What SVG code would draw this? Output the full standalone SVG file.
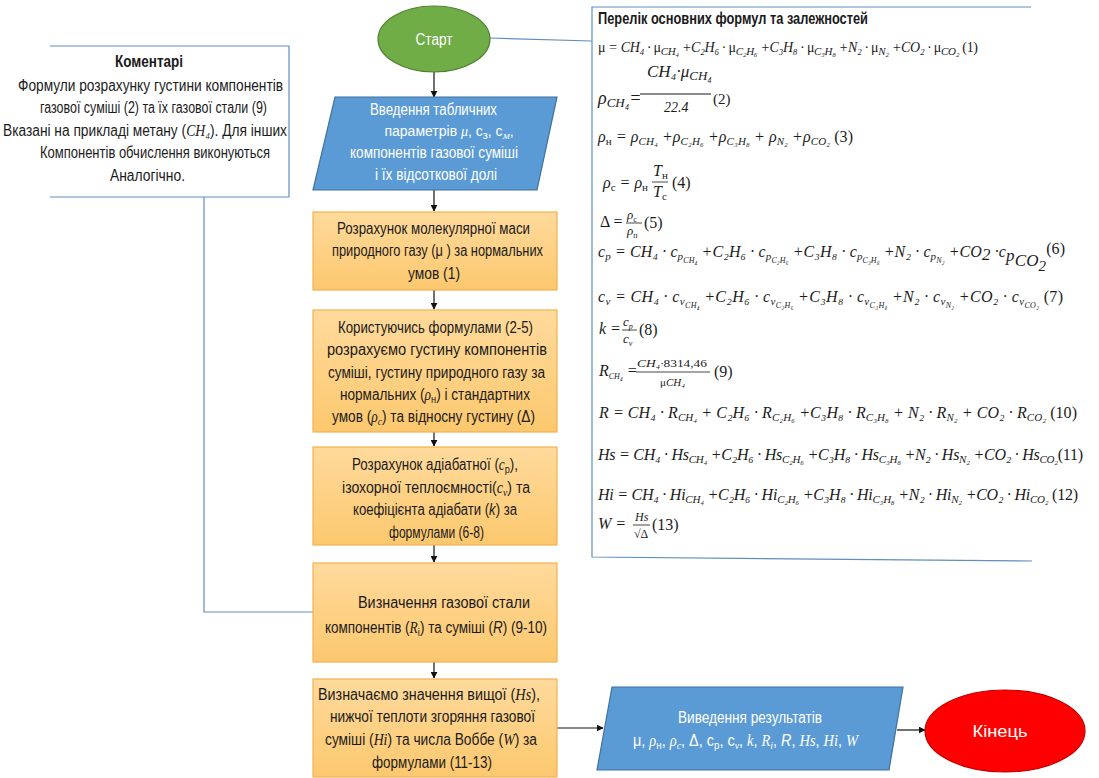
<svg xmlns="http://www.w3.org/2000/svg" width="1099" height="778" viewBox="0 0 1099 778">
  <defs>
    <linearGradient id="orange" x1="0" y1="0" x2="0" y2="1">
      <stop offset="0" stop-color="#FFDA9C"/>
      <stop offset="1" stop-color="#FCC86E"/>
    </linearGradient>
    <marker id="arrow" viewBox="0 0 10 10" refX="9" refY="5" markerWidth="7" markerHeight="7" orient="auto" markerUnits="userSpaceOnUse">
      <path d="M0,0 L10,5 L0,10 z" fill="#111"/>
    </marker>
    <style>
      .t { font-family: "Liberation Sans", Arial, sans-serif; font-size: 16px; fill: #1b1b1b; }
      .c { text-anchor: middle; }
      .w { fill: #ffffff; }
      .b { font-weight: bold; }
      .i { font-family: "Liberation Serif", "DejaVu Serif", serif; font-style: italic; }
      .m { font-family: "Liberation Serif", "DejaVu Serif", serif; font-style: italic; font-size: 16px; fill: #1b1b1b; }
      .u { font-style: normal; }
      .s { font-size: 11px; baseline-shift: -3px; }
      .ss { font-size: 8px; baseline-shift: -3px; }
      .proc { fill: url(#orange); stroke: #F2B152; stroke-width: 1.2; }
      .io { fill: #5B9BD5; stroke: #41719C; stroke-width: 1.2; }
      .flow { fill: none; stroke: #111; stroke-width: 1.2; marker-end: url(#arrow); }
      .frame { fill: none; stroke: #5E8FBE; stroke-width: 1.2; }
      .bar { stroke: #1b1b1b; stroke-width: 0.8; }
    </style>
  </defs>

  <rect width="1099" height="778" fill="#ffffff"/>

  <!-- connectors -->
  <g id="connectors">
    <line class="flow" x1="434" y1="72" x2="434" y2="97"/>
    <line class="flow" x1="434" y1="190" x2="434" y2="211"/>
    <line class="flow" x1="434" y1="290" x2="434" y2="309"/>
    <line class="flow" x1="434" y1="432" x2="434" y2="446"/>
    <line class="flow" x1="434" y1="545" x2="434" y2="562"/>
    <line class="flow" x1="434" y1="662" x2="434" y2="678"/>
    <line class="flow" x1="557" y1="728" x2="603" y2="728"/>
    <line class="flow" x1="897" y1="730" x2="925" y2="730"/>
    <!-- comment link to the gas-constant step -->
    <polyline class="frame" points="204,197 204,612 313,612"/>
    <!-- start link to the formula list -->
    <line class="frame" x1="490" y1="38" x2="592" y2="41"/>
  </g>

  <!-- comment block -->
  <g id="comment">
    <polyline class="frame" points="50,46 289,46 289,197 50,197"/>
    <text class="t b" x="115" y="67" textLength="68" lengthAdjust="spacingAndGlyphs">Коментарі</text>
    <text class="t" x="18" y="91" textLength="265" lengthAdjust="spacingAndGlyphs">Формули розрахунку густини компонентів</text>
    <text class="t" x="40" y="113" textLength="227" lengthAdjust="spacingAndGlyphs">газової суміші (2) та їх газової стали (9)</text>
    <text class="t" x="3" y="136" textLength="284" lengthAdjust="spacingAndGlyphs">Вказані на прикладі метану (<tspan class="i">CH₄</tspan>). Для інших</text>
    <text class="t" x="40" y="158" textLength="230" lengthAdjust="spacingAndGlyphs">Компонентів обчислення виконуються</text>
    <text class="t" x="110" y="181" textLength="75" lengthAdjust="spacingAndGlyphs">Аналогічно.</text>
  </g>

  <g id="start">
    <ellipse cx="434" cy="39" rx="56" ry="33" fill="#70AD47" stroke="#507E32" stroke-width="1.2"/>
    <text class="t c w" x="434" y="45" textLength="37" lengthAdjust="spacingAndGlyphs">Старт</text>
  </g>

  <g id="input">
    <polygon class="io" points="335,97 557,97 537,190 313,190"/>
    <text class="t w" x="370" y="115" textLength="127" lengthAdjust="spacingAndGlyphs">Введення табличних</text>
    <text class="t c w" x="449" y="136" style="font-size:14px">параметрів <tspan class="i">μ</tspan>, c<tspan class="s">з</tspan>, c<tspan class="s i">м</tspan>,</text>
    <text class="t w" x="350" y="158" textLength="168" lengthAdjust="spacingAndGlyphs">компонентів газової суміші</text>
    <text class="t w" x="375" y="180" textLength="122" lengthAdjust="spacingAndGlyphs">і їх відсоткової долі</text>
  </g>

  <g id="molar-mass">
    <rect class="proc" x="313" y="212" width="244" height="78"/>
    <text class="t" x="337" y="234" textLength="193" lengthAdjust="spacingAndGlyphs">Розрахунок молекулярної маси</text>
    <text class="t" x="332" y="256" textLength="211" lengthAdjust="spacingAndGlyphs">природного газу (μ ) за нормальних</text>
    <text class="t" x="408" y="279" textLength="52" lengthAdjust="spacingAndGlyphs">умов (1)</text>
  </g>

  <g id="density">
    <rect class="proc" x="313" y="310" width="244" height="122"/>
    <text class="t" x="338" y="333" textLength="195" lengthAdjust="spacingAndGlyphs">Користуючись формулами (2-5)</text>
    <text class="t" x="327" y="355" textLength="220" lengthAdjust="spacingAndGlyphs">розрахуємо густину компонентів</text>
    <text class="t" x="328" y="378" textLength="217" lengthAdjust="spacingAndGlyphs">суміші, густину природного газу за</text>
    <text class="t" x="340" y="400" textLength="190" lengthAdjust="spacingAndGlyphs">нормальних (<tspan class="i">ρ</tspan><tspan class="s">н</tspan>) і стандартних</text>
    <text class="t" x="332" y="422" textLength="203" lengthAdjust="spacingAndGlyphs">умов (<tspan class="i">ρ</tspan><tspan class="s i">c</tspan>) та відносну густину (Δ)</text>
  </g>

  <g id="heat-capacity">
    <rect class="proc" x="313" y="447" width="244" height="98"/>
    <text class="t" x="352" y="470" textLength="166" lengthAdjust="spacingAndGlyphs">Розрахунок адіабатної (<tspan class="i">c</tspan><tspan class="s">p</tspan>),</text>
    <text class="t" x="342" y="493" textLength="188" lengthAdjust="spacingAndGlyphs">ізохорної теплоємності(<tspan class="i">c</tspan><tspan class="s i">v</tspan>) та</text>
    <text class="t" x="353" y="515" textLength="164" lengthAdjust="spacingAndGlyphs">коефіцієнта адіабати (<tspan font-style="italic">k</tspan>) за</text>
    <text class="t" x="389" y="538" textLength="95" lengthAdjust="spacingAndGlyphs">формулами (6-8)</text>
  </g>

  <g id="gas-constant">
    <rect class="proc" x="313" y="563" width="244" height="99"/>
    <text class="t" x="358" y="608" textLength="172" lengthAdjust="spacingAndGlyphs">Визначення газової стали</text>
    <text class="t" x="325" y="633" textLength="222" lengthAdjust="spacingAndGlyphs">компонентів (<tspan class="i">R</tspan><tspan class="s">i</tspan>) та суміші (<tspan font-style="italic">R</tspan>) (9-10)</text>
  </g>

  <g id="heating-value">
    <rect class="proc" x="313" y="679" width="244" height="98"/>
    <text class="t" x="318" y="700" textLength="222" lengthAdjust="spacingAndGlyphs">Визначаємо значення вищої (<tspan class="i">Hs</tspan>),</text>
    <text class="t" x="330" y="722" textLength="205" lengthAdjust="spacingAndGlyphs">нижчої теплоти згоряння газової</text>
    <text class="t" x="325" y="745" textLength="212" lengthAdjust="spacingAndGlyphs">суміші (<tspan class="i">Hi</tspan>) та числа Воббе (<tspan class="i">W</tspan>) за</text>
    <text class="t" x="372" y="768" textLength="120" lengthAdjust="spacingAndGlyphs">формулами (11-13)</text>
  </g>

  <g id="output">
    <polygon class="io" points="612,687 903,687 889,770 597,770"/>
    <text class="t w" x="678" y="723" textLength="144" lengthAdjust="spacingAndGlyphs">Виведення результатів</text>
    <text class="t w" x="633" y="746" textLength="225" lengthAdjust="spacingAndGlyphs">μ, <tspan class="i">ρ</tspan><tspan class="s">н</tspan>, <tspan class="i">ρ</tspan><tspan class="s i">c</tspan>, Δ, c<tspan class="s">p</tspan>, c<tspan class="s i">v</tspan>, <tspan class="i">k</tspan>, <tspan class="i">R</tspan><tspan class="s i">i</tspan>, <tspan font-style="italic">R</tspan>, <tspan class="i">Hs</tspan>, <tspan class="i">Hi</tspan>, <tspan class="i">W</tspan></text>
  </g>

  <g id="end">
    <ellipse cx="1005" cy="731" rx="80" ry="41" fill="#FF0000" stroke="#C00000" stroke-width="1.2"/>
    <text class="t c w" x="1000" y="737" textLength="55" lengthAdjust="spacingAndGlyphs">Кінець</text>
  </g>

  <!-- list of formulas -->
  <g id="formulas">
    <polyline class="frame" points="1031,7 592,7 592,557 1032,561"/>
    <text class="t b" x="598" y="24" textLength="270" lengthAdjust="spacingAndGlyphs">Перелік основних формул та залежностей</text>

    <!-- (1) -->
    <text class="m" x="598" y="52" style="font-size:14px" textLength="380" lengthAdjust="spacing"><tspan class="u">μ</tspan> = CH₄ · <tspan class="u">μ</tspan><tspan class="s">CH₄</tspan> +C₂H₆ · <tspan class="u">μ</tspan><tspan class="s">C₂H₆</tspan> +C₃H₈ · <tspan class="u">μ</tspan><tspan class="s">C₃H₈</tspan> +N₂ · <tspan class="u">μ</tspan><tspan class="s">N₂</tspan> +CO₂ · <tspan class="u">μ</tspan><tspan class="s">CO₂</tspan><tspan class="u"> (1)</tspan></text>

    <!-- (2) -->
    <text class="m" x="598" y="104" style="font-size:18px">ρ<tspan font-size="13" baseline-shift="-3">CH₄</tspan>=</text>
    <line x1="640" y1="94" x2="711" y2="94" stroke="#1b1b1b" stroke-width="1"/>
    <text class="m" x="647" y="77" style="font-size:17px">CH₄·μ<tspan font-size="13" baseline-shift="-3">CH₄</tspan></text>
    <text class="m" x="664" y="112" style="font-size:14px">22.4</text>
    <text class="m u" x="713" y="104" style="font-size:15px">(2)</text>

    <!-- (3) -->
    <text class="m" x="598" y="142" textLength="255" lengthAdjust="spacing">ρ<tspan class="s u">н</tspan> = ρ<tspan class="s">CH₄</tspan> +ρ<tspan class="s">C₂H₆</tspan> +ρ<tspan class="s">C₃H₈</tspan> + ρ<tspan class="s">N₂</tspan> +ρ<tspan class="s">CO₂</tspan><tspan class="u"> (3)</tspan></text>

    <!-- (4) -->
    <text class="m" x="603" y="188">ρ<tspan class="s u">c</tspan> = ρ<tspan class="s u">н</tspan></text>
    <line class="bar" x1="652" y1="182" x2="668" y2="182"/>
    <text class="m" x="653" y="176">T<tspan class="s u">н</tspan></text>
    <text class="m" x="653" y="197">T<tspan class="s u">c</tspan></text>
    <text class="m u" x="672" y="188">(4)</text>

    <!-- (5) -->
    <text class="m u" x="600" y="227">Δ =</text>
    <line class="bar" x1="626" y1="223" x2="642" y2="223"/>
    <text class="m" x="627" y="219" style="font-size:13px">ρ<tspan class="ss u">c</tspan></text>
    <text class="m" x="627" y="235" style="font-size:13px">ρ<tspan class="ss u">п</tspan></text>
    <text class="m u" x="644" y="228">(5)</text>

    <!-- (6) -->
    <text class="m" x="598" y="257" textLength="467" lengthAdjust="spacing">c<tspan class="s">p</tspan> = CH₄ · c<tspan class="s">p<tspan class="ss">CH₄</tspan></tspan> +C₂H₆ · c<tspan class="s">p<tspan class="ss">C₂H₆</tspan></tspan> +C₃H₈ · c<tspan class="s">p<tspan class="ss">C₃H₈</tspan></tspan> +N₂ · c<tspan class="s">p<tspan class="ss">N₂</tspan></tspan> +CO<tspan font-size="17" baseline-shift="-3">2</tspan> ·c<tspan font-size="17" baseline-shift="-4">p<tspan baseline-shift="-5">CO<tspan font-size="15" baseline-shift="-5">2</tspan></tspan></tspan><tspan class="u" font-size="16" baseline-shift="3">(6)</tspan></text>

    <!-- (7) -->
    <text class="m" x="598" y="302" textLength="465" lengthAdjust="spacing">c<tspan class="s">v</tspan> = CH₄ · c<tspan class="s">v<tspan class="ss">CH₄</tspan></tspan> +C₂H₆ · c<tspan class="s">v<tspan class="ss">C₂H₆</tspan></tspan> +C₃H₈ · c<tspan class="s">v<tspan class="ss">C₃H₈</tspan></tspan> +N₂ · c<tspan class="s">v<tspan class="ss">N₂</tspan></tspan> +CO₂ · c<tspan class="s">v<tspan class="ss">CO₂</tspan></tspan><tspan class="u">  (7)</tspan></text>

    <!-- (8) -->
    <text class="m" x="599" y="334">k =</text>
    <line class="bar" x1="622" y1="330" x2="637" y2="330"/>
    <text class="m" x="623" y="326" style="font-size:13px">c<tspan class="ss">p</tspan></text>
    <text class="m" x="623" y="343" style="font-size:13px">c<tspan class="ss">v</tspan></text>
    <text class="m u" x="639" y="335">(8)</text>

    <!-- (9) -->
    <text class="m" x="599" y="376">R<tspan class="ss">CH₄</tspan> =</text>
    <line class="bar" x1="636" y1="372" x2="710" y2="372"/>
    <text class="m" x="637" y="367" style="font-size:11px" textLength="70" lengthAdjust="spacingAndGlyphs">CH₄·<tspan class="u">8314,46</tspan></text>
    <text class="m" x="660" y="386" style="font-size:11px"><tspan class="u">μ</tspan>CH₄</text>
    <text class="m u" x="714" y="377">(9)</text>

    <!-- (10) -->
    <text class="m" x="599" y="418" textLength="478" lengthAdjust="spacing">R  = CH₄ · R<tspan class="s">CH₄</tspan> + C₂H₆ · R<tspan class="s">C₂H₆</tspan> +C₃H₈ · R<tspan class="s">C₃H₈</tspan> + N₂ · R<tspan class="s">N₂</tspan> + CO₂ · R<tspan class="s">CO₂</tspan><tspan class="u"> (10)</tspan></text>

    <!-- (11) -->
    <text class="m" x="598" y="460" textLength="485" lengthAdjust="spacing">Hs = CH₄ · Hs<tspan class="s">CH₄</tspan> +C₂H₆ · Hs<tspan class="s">C₂H₆</tspan> +C₃H₈ · Hs<tspan class="s">C₃H₈</tspan> +N₂ · Hs<tspan class="s">N₂</tspan> +CO₂ · Hs<tspan class="s">CO₂</tspan><tspan class="u">(11)</tspan></text>

    <!-- (12) -->
    <text class="m" x="598" y="500" textLength="480" lengthAdjust="spacing">Hi = CH₄ · Hi<tspan class="s">CH₄</tspan> +C₂H₆ · Hi<tspan class="s">C₂H₆</tspan> +C₃H₈ · Hi<tspan class="s">C₃H₈</tspan> +N₂ · Hi<tspan class="s">N₂</tspan> +CO₂ · Hi<tspan class="s">CO₂</tspan><tspan class="u"> (12)</tspan></text>

    <!-- (13) -->
    <text class="m" x="598" y="529">W =</text>
    <line class="bar" x1="633" y1="525" x2="650" y2="525"/>
    <text class="m" x="635" y="521" style="font-size:12px">Hs</text>
    <text class="m u" x="634" y="538" style="font-size:12px">√Δ</text>
    <text class="m u" x="652" y="530">(13)</text>
  </g>
</svg>
